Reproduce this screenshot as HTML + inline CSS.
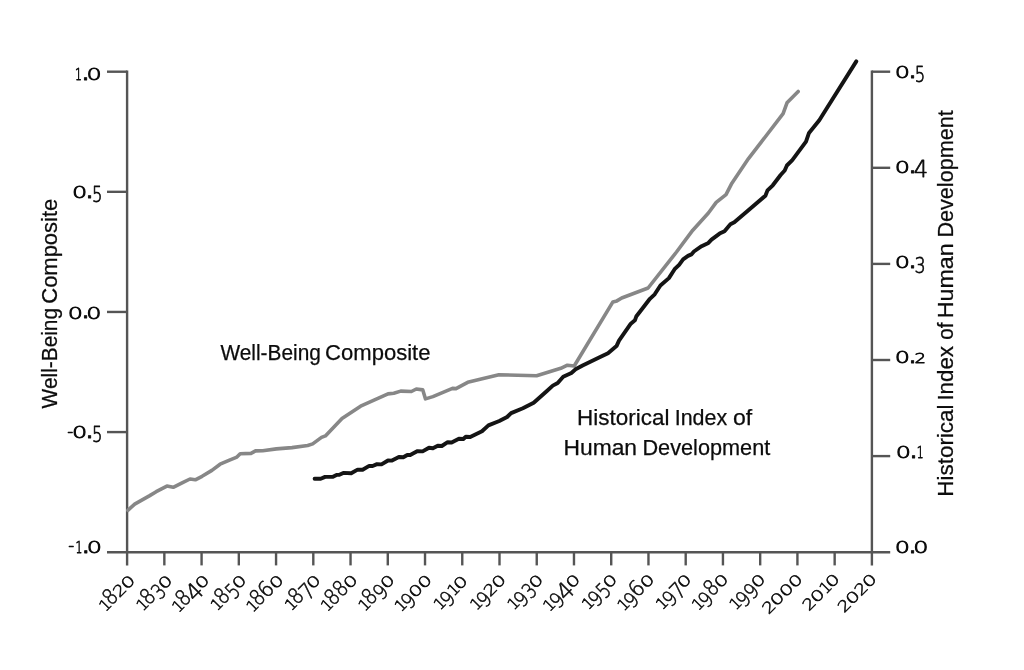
<!DOCTYPE html>
<html lang="en"><head><meta charset="utf-8"><title>Well-Being Composite and Historical Index of Human Development</title>
<style>html,body{margin:0;padding:0;background:#fff;overflow:hidden}svg{display:block}</style></head>
<body>
<svg width="1024" height="670" viewBox="0 0 1024 670" font-family="'Liberation Sans', sans-serif" fill="#0c0c0c">
<rect width="1024" height="670" fill="#fff"/>
<g stroke="#555" stroke-width="2.4" fill="none" stroke-linecap="butt">
<path d="M127.1 70.5 V565.4"/>
<path d="M871.9 70.5 V565.4"/>
<path d="M107.0 552.2 H890.2"/>
<path d="M107 71.70 H127.1"/>
<path d="M107 191.83 H127.1"/>
<path d="M107 311.95 H127.1"/>
<path d="M107 432.08 H127.1"/>
<path d="M871.9 71.70 H890.2"/>
<path d="M871.9 167.80 H890.2"/>
<path d="M871.9 263.90 H890.2"/>
<path d="M871.9 360.00 H890.2"/>
<path d="M871.9 456.10 H890.2"/>
<path d="M164.34 552.2 V565.4"/>
<path d="M201.58 552.2 V565.4"/>
<path d="M238.82 552.2 V565.4"/>
<path d="M276.06 552.2 V565.4"/>
<path d="M313.30 552.2 V565.4"/>
<path d="M350.54 552.2 V565.4"/>
<path d="M387.78 552.2 V565.4"/>
<path d="M425.02 552.2 V565.4"/>
<path d="M462.26 552.2 V565.4"/>
<path d="M499.50 552.2 V565.4"/>
<path d="M536.74 552.2 V565.4"/>
<path d="M573.98 552.2 V565.4"/>
<path d="M611.22 552.2 V565.4"/>
<path d="M648.46 552.2 V565.4"/>
<path d="M685.70 552.2 V565.4"/>
<path d="M722.94 552.2 V565.4"/>
<path d="M760.18 552.2 V565.4"/>
<path d="M797.42 552.2 V565.4"/>
<path d="M834.66 552.2 V565.4"/>
</g>
<path d="M127.8 510.3 L134.7 504.1 L149.3 495.9 L156.2 491.7 L166.9 486.1 L173.2 487.3 L182.6 482.6 L190.0 479.0 L195.3 479.8 L202.1 476.3 L211.9 470.4 L220.1 464.2 L229.5 460.1 L236.9 457.1 L240.2 453.8 L251.0 453.4 L255.5 450.9 L262.7 450.7 L276.4 448.9 L292.0 447.6 L307.7 445.5 L312.7 443.9 L321.5 437.4 L325.4 435.9 L342.0 418.5 L360.6 406.2 L388.0 393.9 L393.8 393.3 L400.7 391.1 L411.4 391.5 L416.3 389.0 L422.8 389.9 L425.5 398.9 L432.9 396.6 L452.5 388.4 L456.0 388.6 L467.7 382.3 L498.9 374.7 L536.6 375.7 L560.8 368.3 L567.4 365.2 L574.2 366.0 L612.9 301.9 L616.9 300.9 L621.7 298.0 L648.1 288.0 L676.5 252.0 L692.8 230.2 L708.4 213.0 L716.2 202.4 L726.0 194.6 L731.9 183.2 L748.5 158.6 L783.1 113.7 L787.0 102.8 L798.2 91.5" fill="none" stroke="#878787" stroke-width="3.6" stroke-linejoin="round" stroke-linecap="round"/>
<path d="M314.6 478.8 L320.7 478.8 L325.1 476.9 L332.5 476.9 L336.5 474.9 L339.4 474.7 L343.3 472.9 L351.2 473.2 L357.6 469.6 L362.6 469.7 L369.2 465.9 L372.6 466.0 L377.0 464.1 L381.5 464.4 L388.0 460.5 L392.0 460.6 L398.9 457.0 L403.3 457.3 L407.3 455.0 L410.2 455.0 L417.6 451.1 L422.6 451.4 L429.0 447.7 L432.9 448.2 L437.8 445.7 L441.8 446.0 L447.7 442.2 L451.6 442.5 L458.9 438.7 L463.3 439.0 L465.8 436.7 L470.2 437.0 L482.0 431.3 L488.4 425.4 L499.3 421.0 L507.1 417.0 L511.1 413.1 L522.9 408.2 L533.7 402.7 L546.9 391.0 L552.8 385.6 L557.7 383.0 L563.2 376.8 L571.4 372.9 L575.6 369.3 L582.6 365.5 L599.1 357.5 L608.0 353.2 L616.5 346.1 L619.0 340.6 L630.8 323.7 L634.9 320.3 L636.4 316.2 L640.3 311.2 L649.9 298.8 L654.7 294.3 L660.4 285.5 L668.9 278.1 L674.6 269.2 L679.1 264.8 L683.1 259.4 L688.0 255.9 L691.4 254.4 L693.9 251.5 L701.6 246.2 L708.4 242.9 L711.5 239.6 L719.6 233.6 L724.5 231.2 L730.4 224.3 L734.3 222.3 L748.1 210.5 L765.4 195.7 L767.5 190.4 L772.8 185.3 L780.6 175.0 L784.7 170.5 L786.9 165.5 L792.3 160.2 L806.0 141.7 L809.0 132.9 L819.3 120.3 L826.5 108.8 L856.3 61.4" fill="none" stroke="#141414" stroke-width="3.9" stroke-linejoin="round" stroke-linecap="round"/>
<text font-family="'DejaVu Sans Light', 'DejaVu Sans', sans-serif" font-weight="200" stroke="#0c0c0c" stroke-linejoin="round" vector-effect="non-scaling-stroke" stroke-width="1.05" transform="translate(0 80.90) scale(1 0.720)"><tspan x="75.13" y="-0.73" font-size="21.05" textLength="6.92" lengthAdjust="spacingAndGlyphs">1</tspan><tspan x="78.25" y="-0.73" font-size="53.05" textLength="14.62" lengthAdjust="spacingAndGlyphs">.</tspan><tspan x="86.45" y="-0.62" font-size="21.20" textLength="15.29" lengthAdjust="spacingAndGlyphs">0</tspan></text>
<text font-family="'DejaVu Sans Light', 'DejaVu Sans', sans-serif" font-weight="200" stroke="#0c0c0c" stroke-linejoin="round" vector-effect="non-scaling-stroke" stroke-width="1.05" transform="translate(0 198.50) scale(1 0.720)"><tspan x="72.00" y="-0.62" font-size="21.20" textLength="15.29" lengthAdjust="spacingAndGlyphs">0</tspan><tspan x="82.30" y="-0.73" font-size="53.05" textLength="14.62" lengthAdjust="spacingAndGlyphs">.</tspan><tspan x="91.98" y="5.25" font-size="29.06" textLength="10.46" lengthAdjust="spacingAndGlyphs">5</tspan></text>
<text font-family="'DejaVu Sans Light', 'DejaVu Sans', sans-serif" font-weight="200" stroke="#0c0c0c" stroke-linejoin="round" vector-effect="non-scaling-stroke" stroke-width="1.05" transform="translate(0 319.00) scale(1 0.720)"><tspan x="67.85" y="-0.62" font-size="21.20" textLength="15.29" lengthAdjust="spacingAndGlyphs">0</tspan><tspan x="78.15" y="-0.73" font-size="53.05" textLength="14.62" lengthAdjust="spacingAndGlyphs">.</tspan><tspan x="86.35" y="-0.62" font-size="21.20" textLength="15.29" lengthAdjust="spacingAndGlyphs">0</tspan></text>
<text font-family="'DejaVu Sans Light', 'DejaVu Sans', sans-serif" font-weight="200" stroke="#0c0c0c" stroke-linejoin="round" vector-effect="non-scaling-stroke" stroke-width="1.05" transform="translate(0 438.70) scale(1 0.720)"><tspan x="67.31" y="-2.63" font-size="20.83" textLength="5.98" lengthAdjust="spacingAndGlyphs">-</tspan><tspan x="72.00" y="-0.62" font-size="21.20" textLength="15.29" lengthAdjust="spacingAndGlyphs">0</tspan><tspan x="82.30" y="-0.73" font-size="53.05" textLength="14.62" lengthAdjust="spacingAndGlyphs">.</tspan><tspan x="91.98" y="5.25" font-size="29.06" textLength="10.46" lengthAdjust="spacingAndGlyphs">5</tspan></text>
<text font-family="'DejaVu Sans Light', 'DejaVu Sans', sans-serif" font-weight="200" stroke="#0c0c0c" stroke-linejoin="round" vector-effect="non-scaling-stroke" stroke-width="1.05" transform="translate(0 553.20) scale(1 0.720)"><tspan x="68.26" y="-2.63" font-size="20.83" textLength="5.98" lengthAdjust="spacingAndGlyphs">-</tspan><tspan x="75.43" y="-0.73" font-size="21.05" textLength="6.92" lengthAdjust="spacingAndGlyphs">1</tspan><tspan x="78.55" y="-0.73" font-size="53.05" textLength="14.62" lengthAdjust="spacingAndGlyphs">.</tspan><tspan x="86.75" y="-0.62" font-size="21.20" textLength="15.29" lengthAdjust="spacingAndGlyphs">0</tspan></text>
<text font-family="'DejaVu Sans Light', 'DejaVu Sans', sans-serif" font-weight="200" stroke="#0c0c0c" stroke-linejoin="round" vector-effect="non-scaling-stroke" stroke-width="1.05" transform="translate(0 78.40) scale(1 0.720)"><tspan x="894.85" y="-0.62" font-size="21.20" textLength="15.29" lengthAdjust="spacingAndGlyphs">0</tspan><tspan x="905.15" y="-0.73" font-size="53.05" textLength="14.62" lengthAdjust="spacingAndGlyphs">.</tspan><tspan x="914.83" y="5.25" font-size="29.06" textLength="10.46" lengthAdjust="spacingAndGlyphs">5</tspan></text>
<text font-family="'DejaVu Sans Light', 'DejaVu Sans', sans-serif" font-weight="200" stroke="#0c0c0c" stroke-linejoin="round" vector-effect="non-scaling-stroke" stroke-width="1.05" transform="translate(0 173.40) scale(1 0.720)"><tspan x="894.85" y="-0.62" font-size="21.20" textLength="15.29" lengthAdjust="spacingAndGlyphs">0</tspan><tspan x="905.15" y="-0.73" font-size="53.05" textLength="14.62" lengthAdjust="spacingAndGlyphs">.</tspan><tspan x="913.82" y="5.38" font-size="31.91" textLength="14.37" lengthAdjust="spacingAndGlyphs">4</tspan></text>
<text font-family="'DejaVu Sans Light', 'DejaVu Sans', sans-serif" font-weight="200" stroke="#0c0c0c" stroke-linejoin="round" vector-effect="non-scaling-stroke" stroke-width="1.05" transform="translate(0 268.60) scale(1 0.720)"><tspan x="894.85" y="-0.62" font-size="21.20" textLength="15.29" lengthAdjust="spacingAndGlyphs">0</tspan><tspan x="905.15" y="-0.73" font-size="53.05" textLength="14.62" lengthAdjust="spacingAndGlyphs">.</tspan><tspan x="914.53" y="5.67" font-size="28.92" textLength="11.14" lengthAdjust="spacingAndGlyphs">3</tspan></text>
<text font-family="'DejaVu Sans Light', 'DejaVu Sans', sans-serif" font-weight="200" stroke="#0c0c0c" stroke-linejoin="round" vector-effect="non-scaling-stroke" stroke-width="1.05" transform="translate(0 363.30) scale(1 0.720)"><tspan x="894.85" y="-0.62" font-size="21.20" textLength="15.29" lengthAdjust="spacingAndGlyphs">0</tspan><tspan x="905.15" y="-0.73" font-size="53.05" textLength="14.62" lengthAdjust="spacingAndGlyphs">.</tspan><tspan x="914.45" y="-0.73" font-size="20.68" textLength="11.55" lengthAdjust="spacingAndGlyphs">2</tspan></text>
<text font-family="'DejaVu Sans Light', 'DejaVu Sans', sans-serif" font-weight="200" stroke="#0c0c0c" stroke-linejoin="round" vector-effect="non-scaling-stroke" stroke-width="1.05" transform="translate(0 458.30) scale(1 0.720)"><tspan x="895.85" y="-0.62" font-size="21.20" textLength="15.29" lengthAdjust="spacingAndGlyphs">0</tspan><tspan x="906.15" y="-0.73" font-size="53.05" textLength="14.62" lengthAdjust="spacingAndGlyphs">.</tspan><tspan x="916.83" y="-0.73" font-size="21.05" textLength="6.92" lengthAdjust="spacingAndGlyphs">1</tspan></text>
<text font-family="'DejaVu Sans Light', 'DejaVu Sans', sans-serif" font-weight="200" stroke="#0c0c0c" stroke-linejoin="round" vector-effect="non-scaling-stroke" stroke-width="1.05" transform="translate(0 553.20) scale(1 0.720)"><tspan x="894.85" y="-0.62" font-size="21.20" textLength="15.29" lengthAdjust="spacingAndGlyphs">0</tspan><tspan x="905.15" y="-0.73" font-size="53.05" textLength="14.62" lengthAdjust="spacingAndGlyphs">.</tspan><tspan x="913.35" y="-0.62" font-size="21.20" textLength="15.29" lengthAdjust="spacingAndGlyphs">0</tspan></text>
<text font-family="'DejaVu Sans Light', 'DejaVu Sans', sans-serif" font-weight="200" stroke="#0c0c0c" stroke-linejoin="round" vector-effect="non-scaling-stroke" stroke-width="0.68" transform="translate(136.47 581.62) rotate(-45) scale(1 0.800)"><tspan x="-43.91" y="-0.42" font-size="19.41" textLength="10.73" lengthAdjust="spacingAndGlyphs">1</tspan><tspan x="-35.40" y="-0.68" font-size="26.97" textLength="12.12" lengthAdjust="spacingAndGlyphs">8</tspan><tspan x="-23.87" y="-0.42" font-size="19.23" textLength="11.91" lengthAdjust="spacingAndGlyphs">2</tspan><tspan x="-13.10" y="-0.69" font-size="18.37" textLength="13.47" lengthAdjust="spacingAndGlyphs">0</tspan></text>
<text font-family="'DejaVu Sans Light', 'DejaVu Sans', sans-serif" font-weight="200" stroke="#0c0c0c" stroke-linejoin="round" vector-effect="non-scaling-stroke" stroke-width="0.68" transform="translate(173.54 581.54) rotate(-45) scale(1 0.800)"><tspan x="-43.51" y="-0.42" font-size="19.41" textLength="10.73" lengthAdjust="spacingAndGlyphs">1</tspan><tspan x="-35.00" y="-0.68" font-size="26.97" textLength="12.12" lengthAdjust="spacingAndGlyphs">8</tspan><tspan x="-23.08" y="4.83" font-size="26.31" textLength="10.85" lengthAdjust="spacingAndGlyphs">3</tspan><tspan x="-13.10" y="-0.69" font-size="18.37" textLength="13.47" lengthAdjust="spacingAndGlyphs">0</tspan></text>
<text font-family="'DejaVu Sans Light', 'DejaVu Sans', sans-serif" font-weight="200" stroke="#0c0c0c" stroke-linejoin="round" vector-effect="non-scaling-stroke" stroke-width="0.68" transform="translate(210.62 581.47) rotate(-45) scale(1 0.800)"><tspan x="-45.61" y="-0.42" font-size="19.41" textLength="10.73" lengthAdjust="spacingAndGlyphs">1</tspan><tspan x="-37.10" y="-0.68" font-size="26.97" textLength="12.12" lengthAdjust="spacingAndGlyphs">8</tspan><tspan x="-26.16" y="5.08" font-size="29.36" textLength="14.63" lengthAdjust="spacingAndGlyphs">4</tspan><tspan x="-13.10" y="-0.69" font-size="18.37" textLength="13.47" lengthAdjust="spacingAndGlyphs">0</tspan></text>
<text font-family="'DejaVu Sans Light', 'DejaVu Sans', sans-serif" font-weight="200" stroke="#0c0c0c" stroke-linejoin="round" vector-effect="non-scaling-stroke" stroke-width="0.68" transform="translate(247.69 581.39) rotate(-45) scale(1 0.800)"><tspan x="-43.31" y="-0.42" font-size="19.41" textLength="10.73" lengthAdjust="spacingAndGlyphs">1</tspan><tspan x="-34.80" y="-0.68" font-size="26.97" textLength="12.12" lengthAdjust="spacingAndGlyphs">8</tspan><tspan x="-22.85" y="4.95" font-size="26.78" textLength="10.71" lengthAdjust="spacingAndGlyphs">5</tspan><tspan x="-13.10" y="-0.69" font-size="18.37" textLength="13.47" lengthAdjust="spacingAndGlyphs">0</tspan></text>
<text font-family="'DejaVu Sans Light', 'DejaVu Sans', sans-serif" font-weight="200" stroke="#0c0c0c" stroke-linejoin="round" vector-effect="non-scaling-stroke" stroke-width="0.68" transform="translate(284.77 581.32) rotate(-45) scale(1 0.800)"><tspan x="-45.41" y="-0.42" font-size="19.41" textLength="10.73" lengthAdjust="spacingAndGlyphs">1</tspan><tspan x="-36.90" y="-0.68" font-size="26.97" textLength="12.12" lengthAdjust="spacingAndGlyphs">8</tspan><tspan x="-25.77" y="-0.68" font-size="26.97" textLength="13.33" lengthAdjust="spacingAndGlyphs">6</tspan><tspan x="-13.10" y="-0.69" font-size="18.37" textLength="13.47" lengthAdjust="spacingAndGlyphs">0</tspan></text>
<text font-family="'DejaVu Sans Light', 'DejaVu Sans', sans-serif" font-weight="200" stroke="#0c0c0c" stroke-linejoin="round" vector-effect="non-scaling-stroke" stroke-width="0.68" transform="translate(321.84 581.25) rotate(-45) scale(1 0.800)"><tspan x="-43.41" y="-0.42" font-size="19.41" textLength="10.73" lengthAdjust="spacingAndGlyphs">1</tspan><tspan x="-34.90" y="-0.68" font-size="26.97" textLength="12.12" lengthAdjust="spacingAndGlyphs">8</tspan><tspan x="-24.00" y="5.83" font-size="27.98" textLength="12.79" lengthAdjust="spacingAndGlyphs">7</tspan><tspan x="-13.10" y="-0.69" font-size="18.37" textLength="13.47" lengthAdjust="spacingAndGlyphs">0</tspan></text>
<text font-family="'DejaVu Sans Light', 'DejaVu Sans', sans-serif" font-weight="200" stroke="#0c0c0c" stroke-linejoin="round" vector-effect="non-scaling-stroke" stroke-width="0.68" transform="translate(358.92 581.17) rotate(-45) scale(1 0.800)"><tspan x="-44.76" y="-0.42" font-size="19.41" textLength="10.73" lengthAdjust="spacingAndGlyphs">1</tspan><tspan x="-36.25" y="-0.68" font-size="26.97" textLength="12.12" lengthAdjust="spacingAndGlyphs">8</tspan><tspan x="-24.50" y="-0.68" font-size="26.97" textLength="12.12" lengthAdjust="spacingAndGlyphs">8</tspan><tspan x="-13.10" y="-0.69" font-size="18.37" textLength="13.47" lengthAdjust="spacingAndGlyphs">0</tspan></text>
<text font-family="'DejaVu Sans Light', 'DejaVu Sans', sans-serif" font-weight="200" stroke="#0c0c0c" stroke-linejoin="round" vector-effect="non-scaling-stroke" stroke-width="0.68" transform="translate(396.00 581.10) rotate(-45) scale(1 0.800)"><tspan x="-44.31" y="-0.42" font-size="19.41" textLength="10.73" lengthAdjust="spacingAndGlyphs">1</tspan><tspan x="-35.80" y="-0.68" font-size="26.97" textLength="12.12" lengthAdjust="spacingAndGlyphs">8</tspan><tspan x="-24.59" y="4.95" font-size="26.31" textLength="11.98" lengthAdjust="spacingAndGlyphs">9</tspan><tspan x="-13.10" y="-0.69" font-size="18.37" textLength="13.47" lengthAdjust="spacingAndGlyphs">0</tspan></text>
<text font-family="'DejaVu Sans Light', 'DejaVu Sans', sans-serif" font-weight="200" stroke="#0c0c0c" stroke-linejoin="round" vector-effect="non-scaling-stroke" stroke-width="0.68" transform="translate(433.07 581.02) rotate(-45) scale(1 0.800)"><tspan x="-45.36" y="-0.42" font-size="19.41" textLength="10.73" lengthAdjust="spacingAndGlyphs">1</tspan><tspan x="-37.39" y="4.95" font-size="26.31" textLength="11.98" lengthAdjust="spacingAndGlyphs">9</tspan><tspan x="-25.90" y="-0.69" font-size="18.37" textLength="13.47" lengthAdjust="spacingAndGlyphs">0</tspan><tspan x="-13.10" y="-0.69" font-size="18.37" textLength="13.47" lengthAdjust="spacingAndGlyphs">0</tspan></text>
<text font-family="'DejaVu Sans Light', 'DejaVu Sans', sans-serif" font-weight="200" stroke="#0c0c0c" stroke-linejoin="round" vector-effect="non-scaling-stroke" stroke-width="0.68" transform="translate(470.14 580.95) rotate(-45) scale(1 0.800)"><tspan x="-42.66" y="-0.42" font-size="19.41" textLength="10.73" lengthAdjust="spacingAndGlyphs">1</tspan><tspan x="-34.69" y="4.95" font-size="26.31" textLength="11.98" lengthAdjust="spacingAndGlyphs">9</tspan><tspan x="-23.06" y="-0.42" font-size="19.41" textLength="10.73" lengthAdjust="spacingAndGlyphs">1</tspan><tspan x="-14.90" y="-0.69" font-size="18.37" textLength="13.47" lengthAdjust="spacingAndGlyphs">0</tspan></text>
<text font-family="'DejaVu Sans Light', 'DejaVu Sans', sans-serif" font-weight="200" stroke="#0c0c0c" stroke-linejoin="round" vector-effect="non-scaling-stroke" stroke-width="0.68" transform="translate(507.22 580.87) rotate(-45) scale(1 0.800)"><tspan x="-43.46" y="-0.42" font-size="19.41" textLength="10.73" lengthAdjust="spacingAndGlyphs">1</tspan><tspan x="-35.49" y="4.95" font-size="26.31" textLength="11.98" lengthAdjust="spacingAndGlyphs">9</tspan><tspan x="-23.87" y="-0.42" font-size="19.23" textLength="11.91" lengthAdjust="spacingAndGlyphs">2</tspan><tspan x="-13.10" y="-0.69" font-size="18.37" textLength="13.47" lengthAdjust="spacingAndGlyphs">0</tspan></text>
<text font-family="'DejaVu Sans Light', 'DejaVu Sans', sans-serif" font-weight="200" stroke="#0c0c0c" stroke-linejoin="round" vector-effect="non-scaling-stroke" stroke-width="0.68" transform="translate(544.29 580.79) rotate(-45) scale(1 0.800)"><tspan x="-43.06" y="-0.42" font-size="19.41" textLength="10.73" lengthAdjust="spacingAndGlyphs">1</tspan><tspan x="-35.09" y="4.95" font-size="26.31" textLength="11.98" lengthAdjust="spacingAndGlyphs">9</tspan><tspan x="-23.08" y="4.83" font-size="26.31" textLength="10.85" lengthAdjust="spacingAndGlyphs">3</tspan><tspan x="-13.10" y="-0.69" font-size="18.37" textLength="13.47" lengthAdjust="spacingAndGlyphs">0</tspan></text>
<text font-family="'DejaVu Sans Light', 'DejaVu Sans', sans-serif" font-weight="200" stroke="#0c0c0c" stroke-linejoin="round" vector-effect="non-scaling-stroke" stroke-width="0.68" transform="translate(581.37 580.72) rotate(-45) scale(1 0.800)"><tspan x="-45.16" y="-0.42" font-size="19.41" textLength="10.73" lengthAdjust="spacingAndGlyphs">1</tspan><tspan x="-37.19" y="4.95" font-size="26.31" textLength="11.98" lengthAdjust="spacingAndGlyphs">9</tspan><tspan x="-26.16" y="5.08" font-size="29.36" textLength="14.63" lengthAdjust="spacingAndGlyphs">4</tspan><tspan x="-13.10" y="-0.69" font-size="18.37" textLength="13.47" lengthAdjust="spacingAndGlyphs">0</tspan></text>
<text font-family="'DejaVu Sans Light', 'DejaVu Sans', sans-serif" font-weight="200" stroke="#0c0c0c" stroke-linejoin="round" vector-effect="non-scaling-stroke" stroke-width="0.68" transform="translate(618.44 580.64) rotate(-45) scale(1 0.800)"><tspan x="-42.86" y="-0.42" font-size="19.41" textLength="10.73" lengthAdjust="spacingAndGlyphs">1</tspan><tspan x="-34.89" y="4.95" font-size="26.31" textLength="11.98" lengthAdjust="spacingAndGlyphs">9</tspan><tspan x="-22.85" y="4.95" font-size="26.78" textLength="10.71" lengthAdjust="spacingAndGlyphs">5</tspan><tspan x="-13.10" y="-0.69" font-size="18.37" textLength="13.47" lengthAdjust="spacingAndGlyphs">0</tspan></text>
<text font-family="'DejaVu Sans Light', 'DejaVu Sans', sans-serif" font-weight="200" stroke="#0c0c0c" stroke-linejoin="round" vector-effect="non-scaling-stroke" stroke-width="0.68" transform="translate(655.52 580.57) rotate(-45) scale(1 0.800)"><tspan x="-44.96" y="-0.42" font-size="19.41" textLength="10.73" lengthAdjust="spacingAndGlyphs">1</tspan><tspan x="-36.99" y="4.95" font-size="26.31" textLength="11.98" lengthAdjust="spacingAndGlyphs">9</tspan><tspan x="-25.77" y="-0.68" font-size="26.97" textLength="13.33" lengthAdjust="spacingAndGlyphs">6</tspan><tspan x="-13.10" y="-0.69" font-size="18.37" textLength="13.47" lengthAdjust="spacingAndGlyphs">0</tspan></text>
<text font-family="'DejaVu Sans Light', 'DejaVu Sans', sans-serif" font-weight="200" stroke="#0c0c0c" stroke-linejoin="round" vector-effect="non-scaling-stroke" stroke-width="0.68" transform="translate(692.59 580.50) rotate(-45) scale(1 0.800)"><tspan x="-42.96" y="-0.42" font-size="19.41" textLength="10.73" lengthAdjust="spacingAndGlyphs">1</tspan><tspan x="-34.99" y="4.95" font-size="26.31" textLength="11.98" lengthAdjust="spacingAndGlyphs">9</tspan><tspan x="-24.00" y="5.83" font-size="27.98" textLength="12.79" lengthAdjust="spacingAndGlyphs">7</tspan><tspan x="-13.10" y="-0.69" font-size="18.37" textLength="13.47" lengthAdjust="spacingAndGlyphs">0</tspan></text>
<text font-family="'DejaVu Sans Light', 'DejaVu Sans', sans-serif" font-weight="200" stroke="#0c0c0c" stroke-linejoin="round" vector-effect="non-scaling-stroke" stroke-width="0.68" transform="translate(729.67 580.42) rotate(-45) scale(1 0.800)"><tspan x="-44.31" y="-0.42" font-size="19.41" textLength="10.73" lengthAdjust="spacingAndGlyphs">1</tspan><tspan x="-36.34" y="4.95" font-size="26.31" textLength="11.98" lengthAdjust="spacingAndGlyphs">9</tspan><tspan x="-24.50" y="-0.68" font-size="26.97" textLength="12.12" lengthAdjust="spacingAndGlyphs">8</tspan><tspan x="-13.10" y="-0.69" font-size="18.37" textLength="13.47" lengthAdjust="spacingAndGlyphs">0</tspan></text>
<text font-family="'DejaVu Sans Light', 'DejaVu Sans', sans-serif" font-weight="200" stroke="#0c0c0c" stroke-linejoin="round" vector-effect="non-scaling-stroke" stroke-width="0.68" transform="translate(766.75 580.35) rotate(-45) scale(1 0.800)"><tspan x="-43.86" y="-0.42" font-size="19.41" textLength="10.73" lengthAdjust="spacingAndGlyphs">1</tspan><tspan x="-35.89" y="4.95" font-size="26.31" textLength="11.98" lengthAdjust="spacingAndGlyphs">9</tspan><tspan x="-24.59" y="4.95" font-size="26.31" textLength="11.98" lengthAdjust="spacingAndGlyphs">9</tspan><tspan x="-13.10" y="-0.69" font-size="18.37" textLength="13.47" lengthAdjust="spacingAndGlyphs">0</tspan></text>
<text font-family="'DejaVu Sans Light', 'DejaVu Sans', sans-serif" font-weight="200" stroke="#0c0c0c" stroke-linejoin="round" vector-effect="non-scaling-stroke" stroke-width="0.68" transform="translate(803.82 580.27) rotate(-45) scale(1 0.800)"><tspan x="-49.47" y="-0.42" font-size="19.23" textLength="11.91" lengthAdjust="spacingAndGlyphs">2</tspan><tspan x="-38.70" y="-0.69" font-size="18.37" textLength="13.47" lengthAdjust="spacingAndGlyphs">0</tspan><tspan x="-25.90" y="-0.69" font-size="18.37" textLength="13.47" lengthAdjust="spacingAndGlyphs">0</tspan><tspan x="-13.10" y="-0.69" font-size="18.37" textLength="13.47" lengthAdjust="spacingAndGlyphs">0</tspan></text>
<text font-family="'DejaVu Sans Light', 'DejaVu Sans', sans-serif" font-weight="200" stroke="#0c0c0c" stroke-linejoin="round" vector-effect="non-scaling-stroke" stroke-width="0.68" transform="translate(840.89 580.20) rotate(-45) scale(1 0.800)"><tspan x="-44.97" y="-0.42" font-size="19.23" textLength="11.91" lengthAdjust="spacingAndGlyphs">2</tspan><tspan x="-34.20" y="-0.69" font-size="18.37" textLength="13.47" lengthAdjust="spacingAndGlyphs">0</tspan><tspan x="-21.26" y="-0.42" font-size="19.41" textLength="10.73" lengthAdjust="spacingAndGlyphs">1</tspan><tspan x="-13.10" y="-0.69" font-size="18.37" textLength="13.47" lengthAdjust="spacingAndGlyphs">0</tspan></text>
<text font-family="'DejaVu Sans Light', 'DejaVu Sans', sans-serif" font-weight="200" stroke="#0c0c0c" stroke-linejoin="round" vector-effect="non-scaling-stroke" stroke-width="0.68" transform="translate(877.97 580.12) rotate(-45) scale(1 0.800)"><tspan x="-47.57" y="-0.42" font-size="19.23" textLength="11.91" lengthAdjust="spacingAndGlyphs">2</tspan><tspan x="-36.80" y="-0.69" font-size="18.37" textLength="13.47" lengthAdjust="spacingAndGlyphs">0</tspan><tspan x="-23.87" y="-0.42" font-size="19.23" textLength="11.91" lengthAdjust="spacingAndGlyphs">2</tspan><tspan x="-13.10" y="-0.69" font-size="18.37" textLength="13.47" lengthAdjust="spacingAndGlyphs">0</tspan></text>
<text y="360" font-size="22.2"  stroke="#0c0c0c" stroke-width="0.25"><tspan x="220.41" textLength="100.43" lengthAdjust="spacingAndGlyphs">Well-Being</tspan> <tspan x="325.08" textLength="105.40" lengthAdjust="spacingAndGlyphs">Composite</tspan></text>
<text y="425" font-size="22.2"  stroke="#0c0c0c" stroke-width="0.25"><tspan x="577.06" textLength="92.34" lengthAdjust="spacingAndGlyphs">Historical</tspan> <tspan x="674.72" textLength="52.41" lengthAdjust="spacingAndGlyphs">Index</tspan> <tspan x="733.03" textLength="19.23" lengthAdjust="spacingAndGlyphs">of</tspan></text>
<text y="455" font-size="22.2"  stroke="#0c0c0c" stroke-width="0.25"><tspan x="563.53" textLength="73.55" lengthAdjust="spacingAndGlyphs">Human</tspan> <tspan x="642.42" textLength="127.84" lengthAdjust="spacingAndGlyphs">Development</tspan></text>
<text transform="translate(56.6 408.3) rotate(-90)" font-size="22.2"  stroke="#0c0c0c" stroke-width="0.25"><tspan x="-0.09" textLength="100.43" lengthAdjust="spacingAndGlyphs">Well-Being</tspan> <tspan x="104.58" textLength="104.99" lengthAdjust="spacingAndGlyphs">Composite</tspan></text>
<text transform="translate(952.7 494.8) rotate(-90)" font-size="22.2"  stroke="#0c0c0c" stroke-width="0.25"><tspan x="-1.84" textLength="92.14" lengthAdjust="spacingAndGlyphs">Historical</tspan> <tspan x="94.24" textLength="54.50" lengthAdjust="spacingAndGlyphs">Index</tspan> <tspan x="155.13" textLength="17.24" lengthAdjust="spacingAndGlyphs">of</tspan> <tspan x="176.49" textLength="75.02" lengthAdjust="spacingAndGlyphs">Human</tspan> <tspan x="257.23" textLength="127.33" lengthAdjust="spacingAndGlyphs">Development</tspan></text>
</svg>
</body></html>
